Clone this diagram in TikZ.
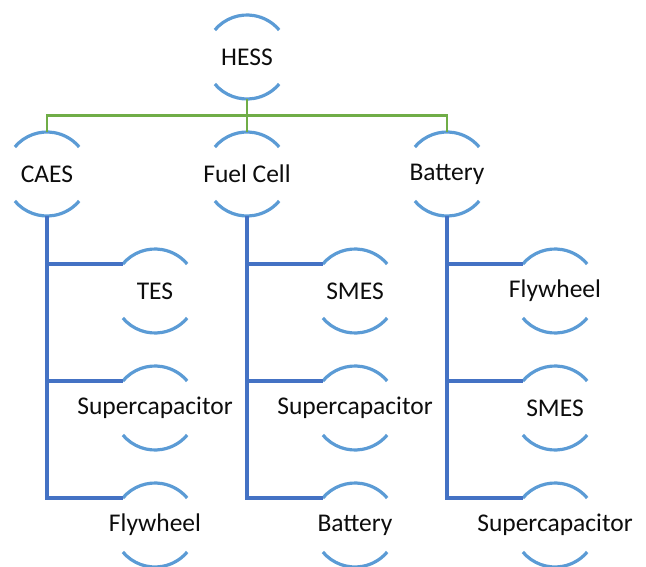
\documentclass[tikz,border=0pt]{standalone}
\usepackage{fontspec}
\setmainfont{Carlito}
\usetikzlibrary{positioning,calc}
\definecolor{arcblue}{HTML}{5B9BD5}
\definecolor{linkblue}{HTML}{4472C4}
\definecolor{busgreen}{HTML}{70AD47}

\begin{document}
\begin{tikzpicture}[on grid,node distance=117pt and 200pt,
   unit/.style={circle,minimum size=84pt,inner sep=0pt,outer sep=0pt,
     label={center:#1}},
   every label/.style={font=\fontsize{25.5}{30}\selectfont,text=black!95},
   halfarc/.style={arcblue,line width=3.2pt},
   link/.style={linkblue,line width=3.6pt},
   bus/.style={busgreen,line width=2.6pt}]
  \useasboundingbox (0,0) rectangle (646pt,-567pt);
  \node[unit=HESS] (hess) at (247pt,-57pt) {};
  \node[unit=CAES] (caes) [below left=117pt and 200pt of hess] {};
  \node[unit=Fuel Cell] (fuel) [below=of hess] {};
  \node[unit=Battery] (batt) [below right=117pt and 200pt of hess] {};
  % storage units hung under each branch
  \node[unit=TES]            (tes)   [below right=117pt and 108pt of caes] {};
  \node[unit=Supercapacitor] (sca)   [below=of tes] {};
  \node[unit=Flywheel]       (fwa)   [below=of sca] {};
  \node[unit=SMES]           (smesb) [below right=117pt and 108pt of fuel] {};
  \node[unit=Supercapacitor] (scb)   [below=of smesb] {};
  \node[unit=Battery]        (batb)  [below=of scb] {};
  \node[unit=Flywheel]       (fwc)   [below right=117pt and 108pt of batt] {};
  \node[unit=SMES]           (smesc) [below=of fwc] {};
  \node[unit=Supercapacitor] (scc)   [below=of smesc] {};
  \foreach \n in {hess,caes,fuel,batt,tes,sca,fwa,smesb,scb,batb,fwc,smesc,scc}
    \draw[halfarc] (\n.140) arc[start angle=140,end angle=40,radius=42pt]
                   (\n.220) arc[start angle=220,end angle=320,radius=42pt];
  \draw[bus] (hess.south) -- (fuel.north);
  \draw[bus] (caes.north) |- ($(hess.south)!.5!(fuel.north)$) -| (batt.north);
  \foreach \p/\c in {caes/tes,caes/sca,caes/fwa,fuel/smesb,fuel/scb,fuel/batb,
                     batt/fwc,batt/smesc,batt/scc}
    \draw[link] (\p.south) |- (\c.140);
\end{tikzpicture}
\end{document}
